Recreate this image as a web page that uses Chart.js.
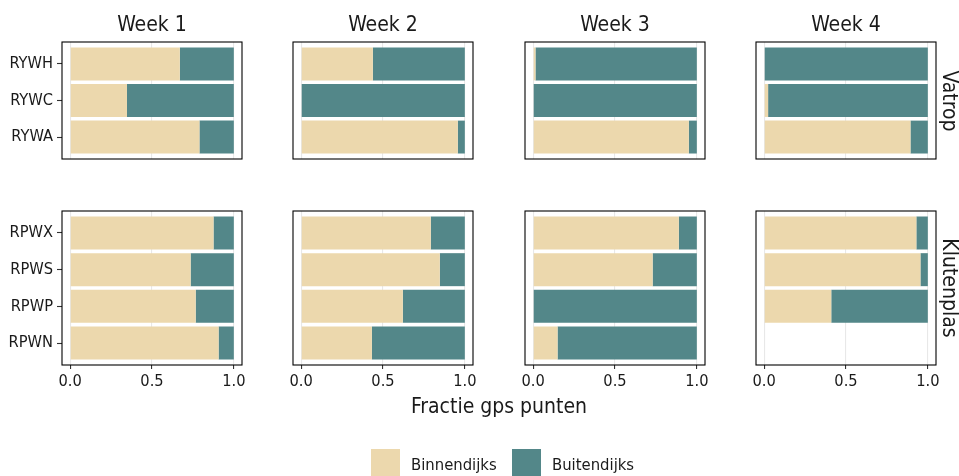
<!DOCTYPE html>
<html>
<head>
<meta charset="utf-8">
<script src="https://cdn.jsdelivr.net/npm/chart.js@4"></script>
<style>
  body { margin: 0; background: #fff; }
  #wrap { position: relative; width: 959px; height: 476px; overflow: hidden; font-family: "DejaVu Sans Condensed", "DejaVu Sans", sans-serif; color: #1a1a1a; }
  #wrap canvas { position: absolute; }
  .lbl { position: absolute; white-space: nowrap; transform: translate(-50%, -50%); }
  .key { position: absolute; width: 29px; height: 29px; }
</style>
</head>
<body>
<div id="wrap"></div>
<script>
const weeks = ["Week 1", "Week 2", "Week 3", "Week 4"];
const sites = ["Vatrop", "Klutenplas"];
// birds listed bottom to top, as ggplot puts the first level at the bottom
const vatropBirds = ["RYWA", "RYWC", "RYWH"];
const klutenBirds = ["RPWN", "RPWP", "RPWS", "RPWX"];

// fractie gps punten per week, same order as the bird lists
const vatropBinnen = [
  [0.79, 0.347, 0.67],
  [0.957, 0, 0.438],
  [0.951, 0, 0.014],
  [0.894, 0.024, 0],
];
const vatropBuiten = [
  [0.21, 0.653, 0.33],
  [0.043, 1, 0.562],
  [0.049, 1, 0.986],
  [0.106, 0.976, 1],
];
const klutenBinnen = [
  [0.907, 0.767, 0.736, 0.876],
  [0.432, 0.621, 0.847, 0.792],
  [0.149, 0, 0.73, 0.89],
  [null, 0.41, 0.955, 0.93],
];
const klutenBuiten = [
  [0.093, 0.233, 0.264, 0.124],
  [0.568, 0.379, 0.153, 0.208],
  [0.851, 1, 0.27, 0.11],
  [null, 0.59, 0.045, 0.07],
];
const xTicks = [0, 0.5, 1];

const colBinnen = "#ECD8AD";
const colBuiten = "#538789";
const textCol = "#1a1a1a";

// panel boxes (chart areas)
const panelLeft = [62, 293, 525, 756];
const panelW = 180;
const rowTop = [42, 211];
const rowH = [117, 154];
const pad = 14;

Chart.defaults.font.family = "'DejaVu Sans Condensed', 'DejaVu Sans', sans-serif";
Chart.defaults.color = textCol;

const wrap = document.getElementById("wrap");

const panelBorder = {
  id: "panelBorder",
  afterDatasetsDraw(chart) {
    const { ctx, chartArea: a } = chart;
    ctx.save();
    ctx.strokeStyle = "#000";
    ctx.lineWidth = 1.1;
    ctx.strokeRect(a.left, a.top, a.right - a.left, a.bottom - a.top);
    ctx.restore();
  },
};

function makePanel(col, row) {
  const birds = row === 0 ? vatropBirds : klutenBirds;
  const binnen = (row === 0 ? vatropBinnen : klutenBinnen)[col];
  const buiten = (row === 0 ? vatropBuiten : klutenBuiten)[col];
  const first = col === 0;
  const bottom = row === 1;
  const xH = bottom ? 30 : 0;

  const left = first ? 0 : panelLeft[col] - pad;
  const top = rowTop[row] - pad;
  const width = panelLeft[col] + panelW + pad - left;
  const height = rowH[row] + pad + (bottom ? xH : pad);

  const canvas = document.createElement("canvas");
  canvas.width = width;
  canvas.height = height;
  canvas.style.left = left + "px";
  canvas.style.top = top + "px";
  canvas.style.width = width + "px";
  canvas.style.height = height + "px";
  wrap.appendChild(canvas);

  new Chart(canvas, {
    type: "bar",
    data: {
      datasets: [
        {
          label: "Binnendijks",
          data: birds.map((b, i) => ({ x: binnen[i], y: i + 1 })),
          backgroundColor: colBinnen,
        },
        {
          label: "Buitendijks",
          data: birds.map((b, i) => ({ x: buiten[i], y: i + 1 })),
          backgroundColor: colBuiten,
        },
      ],
    },
    options: {
      indexAxis: "y",
      responsive: false,
      animation: false,
      devicePixelRatio: 1,
      layout: {
        padding: { left: first ? 0 : pad, right: pad, top: pad, bottom: bottom ? 0 : pad },
      },
      plugins: { legend: { display: false }, tooltip: { enabled: false } },
      datasets: { bar: { barPercentage: 0.9, categoryPercentage: 1 } },
      scales: {
        x: {
          type: "linear",
          stacked: true,
          min: -0.05,
          max: 1.05,
          afterBuildTicks: (s) => { s.ticks = xTicks.map((v) => ({ value: v })); },
          afterFit: (s) => { s.height = xH; },
          border: { display: false },
          grid: {
            color: "#E8E8E8",
            lineWidth: 1.1,
            drawTicks: bottom,
            tickLength: 4,
            tickColor: "#333",
            tickWidth: 1.1,
          },
          ticks: {
            display: bottom,
            padding: 3,
            font: { size: 16.3 },
            color: textCol,
            maxRotation: 0,
            callback: (v) => v.toFixed(1),
          },
        },
        y: {
          type: "linear",
          stacked: true,
          offset: false,
          display: first,
          min: 0.4,
          max: birds.length + 0.6,
          afterBuildTicks: (s) => { s.ticks = birds.map((b, i) => ({ value: i + 1 })); },
          afterFit: (s) => { s.width = first ? panelLeft[0] : 0; },
          border: { display: false },
          grid: {
            offset: false,
            drawOnChartArea: false,
            drawTicks: true,
            tickLength: 5,
            tickColor: "#333",
            tickWidth: 1.1,
          },
          ticks: {
            padding: 4,
            font: { size: 16.3 },
            color: textCol,
            callback: (v) => birds[v - 1],
          },
        },
      },
    },
    plugins: [panelBorder],
  });
}

for (let r = 0; r < 2; r++) {
  for (let c = 0; c < 4; c++) makePanel(c, r);
}

function addText(txt, x, y, size, rotate) {
  const d = document.createElement("div");
  d.className = "lbl";
  d.textContent = txt;
  d.style.left = x + "px";
  d.style.top = y + "px";
  d.style.fontSize = size + "px";
  if (rotate) d.style.transform = "translate(-50%, -50%) rotate(90deg)";
  wrap.appendChild(d);
}

weeks.forEach((w, c) => addText(w, panelLeft[c] + panelW / 2, 23.5, 21));
sites.forEach((s, r) => addText(s, 950, rowTop[r] + rowH[r] / 2, 21, true));
addText("Fractie gps punten", (panelLeft[0] + panelLeft[3] + panelW) / 2, 405.5, 21);

// legend
const legendItems = [
  { label: "Binnendijks", color: colBinnen, x: 371 },
  { label: "Buitendijks", color: colBuiten, x: 512 },
];
legendItems.forEach((it) => {
  const k = document.createElement("div");
  k.className = "key";
  k.style.left = it.x + "px";
  k.style.top = "449px";
  k.style.background = it.color;
  wrap.appendChild(k);
  const t = document.createElement("div");
  t.style.position = "absolute";
  t.style.left = it.x + 40 + "px";
  t.style.top = "464px";
  t.style.transform = "translateY(-50%)";
  t.style.fontSize = "16.5px";
  t.style.whiteSpace = "nowrap";
  t.textContent = it.label;
  wrap.appendChild(t);
});
</script>
</body>
</html>
